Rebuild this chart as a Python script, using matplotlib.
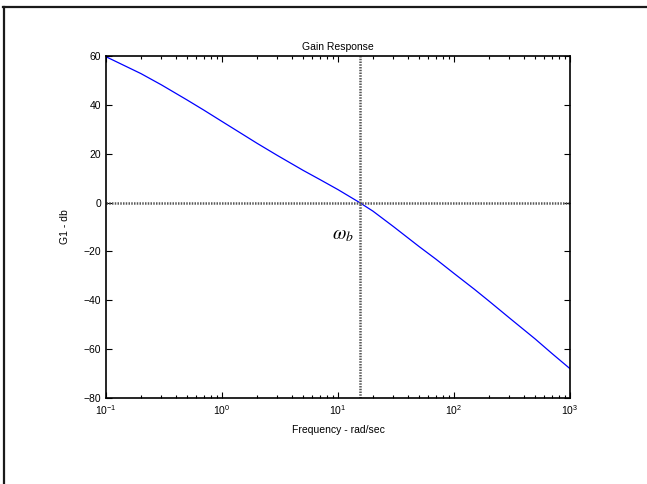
import matplotlib
matplotlib.use('Agg')
import matplotlib.pyplot as plt
from matplotlib.lines import Line2D

# gain response
freq = [0.1, 0.2, 0.3, 0.5, 0.7, 1, 1.5, 2, 3, 5, 7, 10, 15, 20, 30, 50, 70,
        100, 150, 200, 300, 500, 700, 1000]
gain_db = [59.7, 52.8, 48.2, 42.0, 37.8, 33.2, 28.0, 24.3, 19.3, 13.2, 9.4, 5.3,
           0.3, -3.5, -9.8, -18.0, -23.2, -29.0, -35.5, -40.3, -47.2, -55.8,
           -61.8, -68.0]
w_b = 15.5
y_ticks = [-80, -60, -40, -20, 0, 20, 40, 60]

plt.rcParams['font.family'] = ['Liberation Sans', 'DejaVu Sans']
plt.rcParams['mathtext.fontset'] = 'custom'
plt.rcParams['mathtext.rm'] = 'Liberation Sans'
plt.rcParams['font.size'] = 7.5

fig = plt.figure(figsize=(6.47, 4.84), dpi=100)
ax = fig.add_axes([106 / 647, 1 - 398 / 484, 464 / 647, 342 / 484])

ax.semilogx(freq, gain_db, color=(0, 0, 1), lw=0.9)
ax.axhline(0, color='0.35', ls=(0, (0.6, 0.5)), lw=1.8)
ax.axvline(w_b, color='0.35', ls=(0, (0.6, 0.5)), lw=1.8)

ax.set_xlim(0.1, 1000)
ax.set_ylim(-80, 60)
ax.set_yticks(y_ticks)
ax.tick_params(which='both', direction='in', top=True, right=True, labelsize=7.5)
ax.tick_params(which='major', length=4, width=0.8)
ax.tick_params(which='minor', length=2.5, width=0.8)
for s in ax.spines.values():
    s.set_linewidth(1.2)

ax.set_title('Gain Response', fontsize=7.5, pad=4)
ax.set_xlabel('Frequency - rad/sec', fontsize=7.5, labelpad=6)
ax.set_ylabel('G1 - db', fontsize=7.5, labelpad=10)

ax.text(13.8, -13.5, r'$\omega_b$', ha='right', va='center', fontsize=14,
        math_fontfamily='stix')

# outer frame (top and left edges visible)
fig.add_artist(Line2D([3 / 647, 1], [1 - 7 / 484, 1 - 7 / 484],
                      transform=fig.transFigure, color='0.1', lw=1.6))
fig.add_artist(Line2D([4 / 647, 4 / 647], [0, 1 - 7 / 484],
                      transform=fig.transFigure, color='0.1', lw=1.6))

fig.savefig('out.png', dpi=100)
